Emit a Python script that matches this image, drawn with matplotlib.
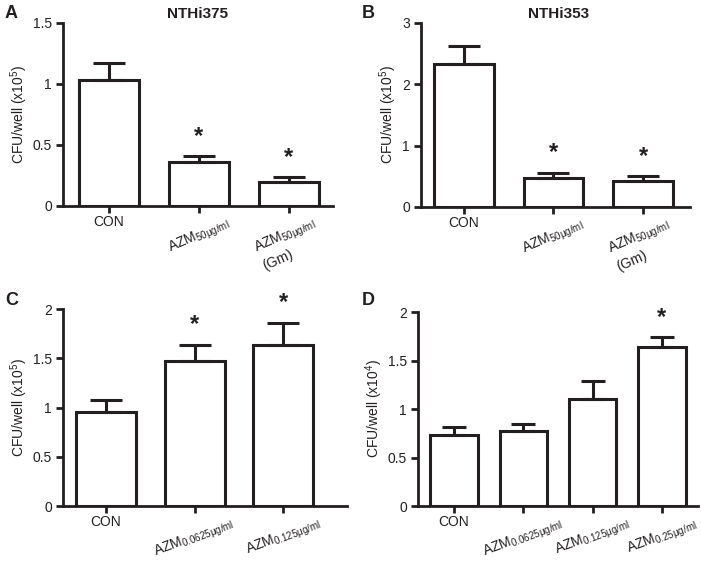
import matplotlib
matplotlib.use("Agg")
import matplotlib.pyplot as plt
import numpy as np

plt.rcParams['font.family'] = ['Liberation Sans', 'DejaVu Sans']
plt.rcParams['mathtext.fontset'] = 'custom'
plt.rcParams['mathtext.rm'] = 'Liberation Sans'
plt.rcParams['mathtext.it'] = 'Liberation Sans:italic'

INK = '#231f20'

# ---------------- data ----------------
a_labels = ['CON', r'AZM$_{\mathregular{50μg/ml}}$', 'AZM$_{\\mathregular{50μg/ml}}$\n(Gm)']
a_vals = [1.03, 0.36, 0.20]
a_err = [0.14, 0.05, 0.035]
a_sig = [False, True, True]

b_labels = ['CON', r'AZM$_{\mathregular{50μg/ml}}$', 'AZM$_{\\mathregular{50μg/ml}}$\n(Gm)']
b_vals = [2.33, 0.47, 0.42]
b_err = [0.29, 0.09, 0.08]
b_sig = [False, True, True]

c_labels = ['CON', r'AZM$_{\mathregular{0.0625μg/ml}}$', r'AZM$_{\mathregular{0.125μg/ml}}$']
c_vals = [0.95, 1.47, 1.64]
c_err = [0.13, 0.17, 0.22]
c_sig = [False, True, True]

d_labels = ['CON', r'AZM$_{\mathregular{0.0625μg/ml}}$', r'AZM$_{\mathregular{0.125μg/ml}}$',
            r'AZM$_{\mathregular{0.25μg/ml}}$']
d_vals = [0.73, 0.77, 1.10, 1.64]
d_err = [0.08, 0.08, 0.19, 0.10]
d_sig = [False, False, False, True]

fig = plt.figure(figsize=(7.01, 5.62), dpi=100)


def panel(rect, labels, vals, errs, sig, ylim, yticks, yticklabels, ylabel,
          xlim, width, capsize, rot_size, rot):
    ax = fig.add_axes(rect)
    x = np.arange(len(vals))
    ax.bar(x, vals, width=width, color='white', edgecolor=INK, linewidth=2.2, zorder=2)
    ax.errorbar(x, vals, yerr=[np.zeros(len(vals)), errs], fmt='none', ecolor=INK,
                elinewidth=2.2, capsize=capsize, capthick=2.2, zorder=3)
    for xi, v, e, s in zip(x, vals, errs, sig):
        if s:
            ax.annotate('*', xy=(xi, v + e), xytext=(0, 6), textcoords='offset points',
                        ha='center', va='bottom', fontsize=17, fontweight='bold', color=INK)
    ax.set_xlim(*xlim)
    ax.set_ylim(*ylim)
    ax.set_yticks(yticks)
    ax.set_yticklabels(yticklabels)
    ax.set_xticks(x)
    ax.set_xticklabels(labels)
    for i, t in enumerate(ax.get_xticklabels()):
        if i > 0:
            t.set_rotation(rot)
            t.set_ha('center')
            t.set_multialignment('left')
            t.set_fontsize(rot_size)
    for sp in ['top', 'right']:
        ax.spines[sp].set_visible(False)
    for sp in ['left', 'bottom']:
        ax.spines[sp].set_linewidth(2.0)
        ax.spines[sp].set_color(INK)
    ax.tick_params(axis='both', direction='out', length=5, width=2.0, color=INK,
                   labelsize=10, labelcolor=INK)
    ax.tick_params(axis='x', pad=1.5)
    ax.tick_params(axis='y', pad=3)
    ax.set_ylabel(ylabel, fontsize=10, color=INK, labelpad=2)
    ax.patch.set_alpha(0)
    return ax


panel([0.0899, 0.6335, 0.385, 0.3256], a_labels, a_vals, a_err, a_sig,
      (0, 1.5), [0, 0.5, 1, 1.5], ['0', '0.5', '1', '1.5'],
      r'CFU/well (x10$^{\mathregular{5}}$)', (-0.511, 2.489), 0.667, 11.5, 10.8, 24)
panel([0.6006, 0.6317, 0.3837, 0.3274], b_labels, b_vals, b_err, b_sig,
      (0, 3), [0, 1, 2, 3], ['0', '1', '2', '3'],
      r'CFU/well (x10$^{\mathregular{5}}$)', (-0.48, 2.525), 0.67, 11.5, 10.8, 24)
panel([0.0899, 0.0996, 0.405, 0.3505], c_labels, c_vals, c_err, c_sig,
      (0, 2), [0, 0.5, 1, 1.5, 2], ['0', '0.5', '1', '1.5', '2'],
      r'CFU/well (x10$^{\mathregular{5}}$)', (-0.486, 2.72), 0.68, 11.5, 10.4, 21)
panel([0.5963, 0.0996, 0.3994, 0.3452], d_labels, d_vals, d_err, d_sig,
      (0, 2), [0, 0.5, 1, 1.5, 2], ['0', '0.5', '1', '1.5', '2'],
      r'CFU/well (x10$^{\mathregular{4}}$)', (-0.52, 3.52), 0.68, 8.3, 10.0, 21)

# panel letters and titles
for lx, ly, L in [(5, 18, 'A'), (362, 18, 'B'), (5, 305, 'C'), (362, 305, 'D')]:
    fig.text(lx / 701, 1 - ly / 562, L, fontsize=13, fontweight='bold', color=INK,
             ha='left', va='baseline')
fig.text(197 / 701, 1 - 18 / 562, 'NTHi375', fontsize=11, fontweight='bold', color=INK,
         ha='center', va='baseline')
fig.text(559 / 701, 1 - 18 / 562, 'NTHi353', fontsize=11, fontweight='bold', color=INK,
         ha='center', va='baseline')

fig.savefig('out.png', dpi=100)
